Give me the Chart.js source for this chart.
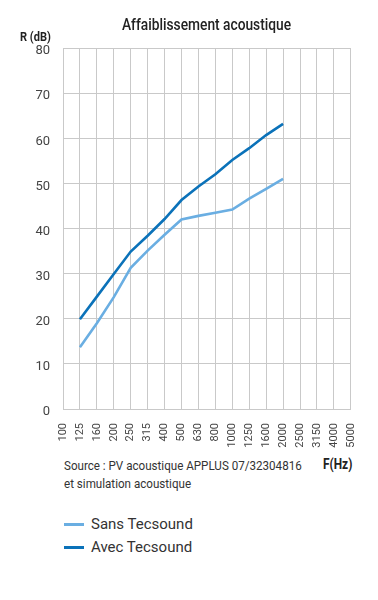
<!DOCTYPE html>
<html><head><meta charset="utf-8">
<script src="https://cdn.jsdelivr.net/npm/chart.js@4"></script>
<style>
html,body{margin:0;padding:0;background:#fff;width:378px;height:600px;overflow:hidden;font-family:Roboto,sans-serif;color:#333}
#wrap{position:absolute;left:0;top:0;width:378px;height:450px}
.t{position:absolute;white-space:nowrap;transform-origin:0 0}
#title{left:122px;top:15px;font-size:16px;font-weight:500;color:#222;transform:scaleX(0.86)}
#ry{left:20px;top:29px;font-size:13px;font-weight:bold;color:#222;transform:scaleX(0.85)}
#fx{left:323px;top:456px;font-size:14px;font-weight:bold;color:#222;transform:scaleX(0.85)}
#src{left:64px;top:456px;font-size:13.5px;line-height:18px;color:#333;transform:scaleX(0.86)}
.lg{position:absolute;left:64px;font-size:15px;color:#333;white-space:nowrap}
.lg span{display:inline-block;width:20px;height:3px;vertical-align:middle;margin-right:7px;position:relative;top:-1px}
</style></head><body>
<div id="wrap"><canvas id="c" width="378" height="450"></canvas></div>
<div class="t" id="title">Affaiblissement acoustique</div>
<div class="t" id="ry">R (dB)</div>
<div class="t" id="src">Source : PV acoustique APPLUS 07/32304816<br>et simulation acoustique</div>
<div class="t" id="fx">F(Hz)</div>
<div class="lg" style="top:515px"><span style="background:#6aaee2"></span>Sans Tecsound</div>
<div class="lg" style="top:538px"><span style="background:#0b72b9"></span>Avec Tecsound</div>
<script>
const frequencies = ['100','125','160','200','250','315','400','500','630','800','1000','1250','1600','2000','2500','3150','4000','5000'];
const sansTecsound = [null,13.7,19,24.8,31.3,35.1,38.6,42,42.8,43.5,44.2,46.6,48.8,51,null,null,null,null];
const avecTecsound = [null,19.9,24.9,29.9,34.9,38.4,42.1,46.3,49.3,52,55.2,57.8,60.7,63.2,null,null,null,null];
const yTicks = [0,10,20,30,40,50,60,70,80];

const FONT = "Roboto,sans-serif";
new Chart(document.getElementById('c'), {
  type: 'line',
  data: {
    labels: frequencies,
    datasets: [
      {label:'Sans Tecsound', data: sansTecsound, borderColor:'#6aaee2', borderWidth:2.6, pointRadius:0, tension:0, fill:false},
      {label:'Avec Tecsound', data: avecTecsound, borderColor:'#0b72b9', borderWidth:2.6, pointRadius:0, tension:0, fill:false}
    ]
  },
  options: {
    responsive:false, animation:false, devicePixelRatio:1,
    layout:{padding:{left:0,top:48,right:27,bottom:0}},
    plugins:{legend:{display:false},title:{display:false},tooltip:{enabled:false}},
    scales:{
      x:{
        offset:false,
        grid:{color:'#c9c9c9',lineWidth:1,drawTicks:false},
        border:{color:'#c9c9c9'},
        ticks:{autoSkip:false,minRotation:90,maxRotation:90,padding:14,color:'#444',font:{family:FONT,size:11}},
        afterFit:(s)=>{s.height=41;}
      },
      y:{
        min:0,max:80,
        afterBuildTicks:(s)=>{s.ticks=yTicks.map(v=>({value:v}));},
        grid:{color:'#c9c9c9',lineWidth:1,drawTicks:false},
        border:{color:'#c9c9c9'},
        ticks:{padding:13,labelOffset:3,color:'#444',font:{family:FONT,size:13}},
        afterFit:(s)=>{s.width=63;}
      }
    }
  }
});
</script>
</body></html>
